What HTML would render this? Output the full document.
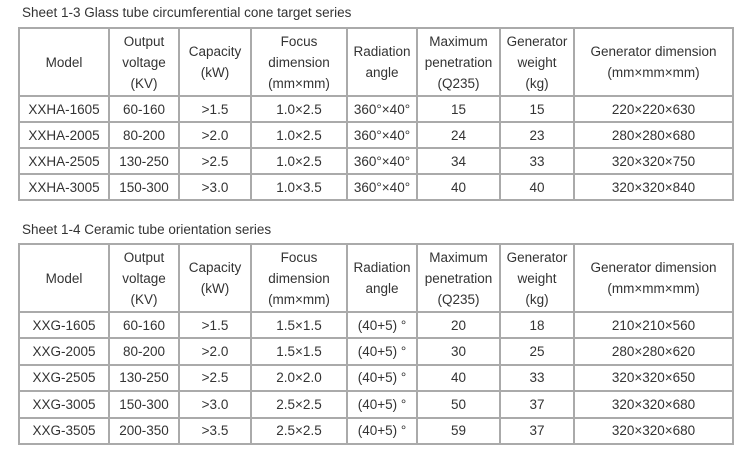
<!DOCTYPE html>
<html><head><meta charset="utf-8"><style>
body{margin:0;background:#fff;width:750px;height:460px;position:relative;font-family:"Liberation Sans","DejaVu Sans",sans-serif;color:#333;}
.t{position:absolute;left:22px;font-size:13.5px;color:#333;}
table{position:absolute;left:18px;border-collapse:collapse;table-layout:fixed;width:714px;font-size:13.5px;}
td{border:2px solid #aaa;text-align:center;padding:0;line-height:21px;}
tr.h td{height:66px;}
tr.r td{height:24px;}
table.b tr.r td{height:24.4px;}
</style></head><body>
<div class="t" style="top:5px">Sheet 1-3 Glass tube circumferential cone target series</div>
<table style="top:27px">
<colgroup><col style="width:90px"><col style="width:70px"><col style="width:72px"><col style="width:96px"><col style="width:70px"><col style="width:83px"><col style="width:74px"><col style="width:159px"></colgroup>
<tr class="h"><td>Model</td><td>Output<br>voltage<br>(KV)</td><td>Capacity<br>(kW)</td><td>Focus<br>dimension<br>(mm×mm)</td><td>Radiation<br>angle</td><td>Maximum<br>penetration<br>(Q235)</td><td>Generator<br>weight<br>(kg)</td><td>Generator dimension<br>(mm×mm×mm)</td></tr>
<tr class="r"><td>XXHA-1605</td><td>60-160</td><td>&gt;1.5</td><td>1.0×2.5</td><td>360°×40°</td><td>15</td><td>15</td><td>220×220×630</td></tr>
<tr class="r"><td>XXHA-2005</td><td>80-200</td><td>&gt;2.0</td><td>1.0×2.5</td><td>360°×40°</td><td>24</td><td>23</td><td>280×280×680</td></tr>
<tr class="r"><td>XXHA-2505</td><td>130-250</td><td>&gt;2.5</td><td>1.0×2.5</td><td>360°×40°</td><td>34</td><td>33</td><td>320×320×750</td></tr>
<tr class="r"><td>XXHA-3005</td><td>150-300</td><td>&gt;3.0</td><td>1.0×3.5</td><td>360°×40°</td><td>40</td><td>40</td><td>320×320×840</td></tr>
</table>
<div class="t" style="top:222px">Sheet 1-4 Ceramic tube orientation series</div>
<table class="b" style="top:243px">
<colgroup><col style="width:90px"><col style="width:70px"><col style="width:72px"><col style="width:96px"><col style="width:70px"><col style="width:83px"><col style="width:74px"><col style="width:159px"></colgroup>
<tr class="h"><td>Model</td><td>Output<br>voltage<br>(KV)</td><td>Capacity<br>(kW)</td><td>Focus<br>dimension<br>(mm×mm)</td><td>Radiation<br>angle</td><td>Maximum<br>penetration<br>(Q235)</td><td>Generator<br>weight<br>(kg)</td><td>Generator dimension<br>(mm×mm×mm)</td></tr>
<tr class="r"><td>XXG-1605</td><td>60-160</td><td>&gt;1.5</td><td>1.5×1.5</td><td>(40+5) °</td><td>20</td><td>18</td><td>210×210×560</td></tr>
<tr class="r"><td>XXG-2005</td><td>80-200</td><td>&gt;2.0</td><td>1.5×1.5</td><td>(40+5) °</td><td>30</td><td>25</td><td>280×280×620</td></tr>
<tr class="r"><td>XXG-2505</td><td>130-250</td><td>&gt;2.5</td><td>2.0×2.0</td><td>(40+5) °</td><td>40</td><td>33</td><td>320×320×650</td></tr>
<tr class="r"><td>XXG-3005</td><td>150-300</td><td>&gt;3.0</td><td>2.5×2.5</td><td>(40+5) °</td><td>50</td><td>37</td><td>320×320×680</td></tr>
<tr class="r"><td>XXG-3505</td><td>200-350</td><td>&gt;3.5</td><td>2.5×2.5</td><td>(40+5) °</td><td>59</td><td>37</td><td>320×320×680</td></tr>
</table>
</body></html>
